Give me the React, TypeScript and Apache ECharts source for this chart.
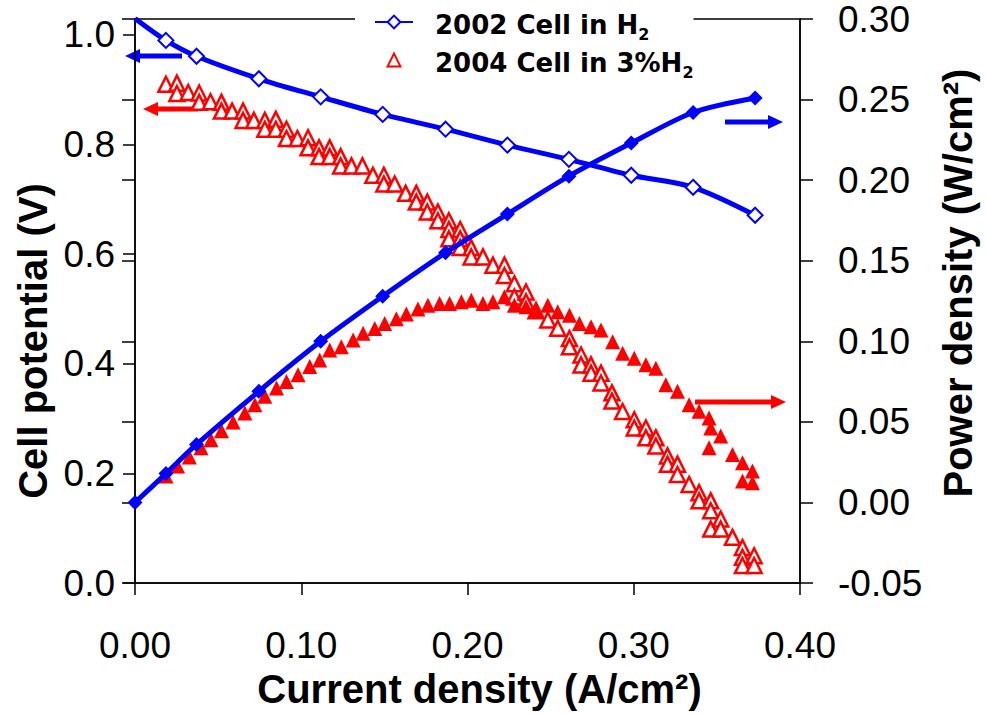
import React, { useEffect, useRef } from "react";
import * as echarts from "echarts";

// ---- data ----
const cur2002 = [0, 0.0186, 0.037, 0.0745, 0.1117, 0.149, 0.1868, 0.224, 0.261, 0.2985, 0.3357, 0.373];
const volt2002 = [1.03, 0.99, 0.961, 0.92, 0.887, 0.855, 0.828, 0.799, 0.773, 0.744, 0.722, 0.671];
const power2002 = [0.0, 0.018, 0.036, 0.069, 0.1, 0.128, 0.155, 0.179, 0.2025, 0.223, 0.242, 0.251];

const curV2004 = [
  0.0186, 0.0252, 0.0252, 0.032, 0.0386, 0.0386, 0.0454, 0.052, 0.052, 0.0584, 0.065, 0.065, 0.0715,
  0.0781, 0.0781, 0.0847, 0.0847, 0.0911, 0.0911, 0.0977, 0.1041, 0.1041, 0.1107, 0.1107, 0.1171, 0.1171,
  0.1237, 0.1237, 0.1302, 0.1368, 0.1431, 0.1497, 0.1497, 0.1562, 0.1628, 0.1692, 0.1692, 0.1758, 0.1758,
  0.1822, 0.1822, 0.1888, 0.1888, 0.1888, 0.1956, 0.1956, 0.1956, 0.2022, 0.2022, 0.2093, 0.2153, 0.2222,
  0.2222, 0.2282, 0.2282, 0.2352, 0.2352, 0.2412, 0.2483, 0.2543, 0.2613, 0.2613, 0.2683, 0.2683, 0.2743,
  0.2743, 0.2803, 0.2803, 0.2869, 0.2869, 0.2933, 0.3003, 0.3003, 0.3073, 0.3073, 0.3133, 0.3133, 0.3203,
  0.3203, 0.3263, 0.3263, 0.3333, 0.3393, 0.3393, 0.3463, 0.3463, 0.3463, 0.3523, 0.3523, 0.3594, 0.3654,
  0.3654, 0.3654, 0.3724, 0.3724,
];
const volt2004 = [
  0.91, 0.912, 0.893, 0.895, 0.894, 0.877, 0.878, 0.877, 0.861, 0.861, 0.861, 0.844, 0.844,
  0.844, 0.828, 0.846, 0.828, 0.828, 0.811, 0.811, 0.8125, 0.794, 0.794, 0.778, 0.794, 0.778,
  0.778, 0.761, 0.761, 0.761, 0.744, 0.744, 0.728, 0.728, 0.711, 0.711, 0.695, 0.695, 0.677,
  0.677, 0.661, 0.661, 0.645, 0.628, 0.645, 0.628, 0.612, 0.612, 0.595, 0.595, 0.58, 0.58,
  0.561, 0.546, 0.522, 0.531, 0.513, 0.497, 0.48, 0.465, 0.446, 0.431, 0.416, 0.398, 0.398,
  0.383, 0.383, 0.365, 0.347, 0.332, 0.313, 0.298, 0.283, 0.283, 0.265, 0.265, 0.25, 0.232,
  0.217, 0.217, 0.198, 0.18, 0.165, 0.15, 0.15, 0.132, 0.0985, 0.117, 0.0985, 0.0835, 0.065,
  0.047, 0.032, 0.05, 0.032,
];

const curP2004 = [
  0.0186, 0.0256, 0.0327, 0.0397, 0.0457, 0.052, 0.059, 0.0661, 0.0721, 0.0781, 0.0851, 0.0911, 0.0981,
  0.1051, 0.1111, 0.1171, 0.1241, 0.1312, 0.1372, 0.1442, 0.1502, 0.1572, 0.1632, 0.1702, 0.1762, 0.1832,
  0.1892, 0.1963, 0.2023, 0.2093, 0.2153, 0.2222, 0.2282, 0.2352, 0.2412, 0.2483, 0.2543, 0.2613, 0.2673,
  0.2743, 0.2803, 0.2873, 0.2933, 0.3003, 0.3073, 0.3133, 0.3193, 0.3263, 0.3333, 0.3393, 0.3453, 0.3463,
  0.3523, 0.3453, 0.3594, 0.3654, 0.3654, 0.3714, 0.3714,
];
const power2004 = [
  0.0165, 0.0227, 0.0282, 0.034, 0.039, 0.0446, 0.05, 0.0556, 0.0607, 0.0659, 0.071, 0.0751, 0.0792,
  0.0844, 0.0885, 0.0946, 0.0967, 0.1008, 0.105, 0.108, 0.111, 0.114, 0.117, 0.12, 0.1224, 0.1235,
  0.1235, 0.1245, 0.1255, 0.1235, 0.1245, 0.1276, 0.1224, 0.1214, 0.1193, 0.1224, 0.1183, 0.1162, 0.111,
  0.109, 0.107, 0.0998, 0.0926, 0.0895, 0.0854, 0.0833, 0.073, 0.069, 0.0607, 0.0566, 0.0525, 0.0463,
  0.0412, 0.034, 0.0298, 0.0247, 0.0134, 0.0196, 0.0123,
];

const xTitle = "Current density (A/cm²)";
const yLeftTitle = "Cell potential (V)";
const yRightTitle = "Power density (W/cm²)";
const name2002 = "2002 Cell in H2";
const name2004 = "2004 Cell in 3%H2";

const FONT = '"Liberation Sans", Arial, sans-serif';
const BLUE = "#0000ff";
const RED = "#ff0000";

function arrow(tail: number, tip: number, y: number, color: string) {
  const dir = tip > tail ? 1 : -1;
  const headLen = 15;
  const baseX = tip - dir * headLen;
  return {
    type: "group",
    z: 100,
    children: [
      { type: "line", shape: { x1: tail, y1: y, x2: baseX, y2: y }, style: { stroke: color, lineWidth: 5 } },
      {
        type: "polygon",
        shape: { points: [[tip, y], [baseX, y - 7], [baseX, y + 7]] },
        style: { fill: color },
      },
    ],
  };
}

export default function App() {
  const ref = useRef<HTMLDivElement>(null);
  useEffect(() => {
    if (!ref.current) return;
    const chart = echarts.init(ref.current, null, { renderer: "svg" });
    const axisLineStyle = { color: "#000", width: 1.5 };
    const labelStyle = { fontSize: 37, color: "#000", fontFamily: FONT };
    const nameStyle = { fontSize: 40, fontWeight: "bold", color: "#000", fontFamily: FONT };
    const option = {
      animation: false,
      backgroundColor: "#fff",
      grid: {
        left: 135, right: 186, top: 19, bottom: 128,
        show: true, borderColor: "#000", borderWidth: 1.5, backgroundColor: "transparent",
      },
      legend: {
        left: 355, top: 12, orient: "vertical", itemGap: 8, itemWidth: 38, itemHeight: 16,
        padding: [0, 0, 6, 19], backgroundColor: "#fff", z: 50,
        data: [{ name: name2002 }, { name: name2004 }],
        formatter: (n: string) =>
          n === name2002 ? "{a|2002 Cell in H}{s|2}" : "{a|2004 Cell in 3%H}{s|2}",
        textStyle: {
          padding: [6, 0, 0, 17],
          rich: {
            a: { fontSize: 26, fontWeight: "bold", fontFamily: "DejaVu Sans", lineHeight: 34, color: "#000" },
            s: { fontSize: 16, fontWeight: "bold", fontFamily: "DejaVu Sans", lineHeight: 16, verticalAlign: "bottom", color: "#000" },
          },
        },
      },
      xAxis: {
        type: "value", min: 0, max: 0.4, interval: 0.1,
        axisLine: { show: true, onZero: false, lineStyle: axisLineStyle },
        axisTick: { show: true, inside: false, length: 12, lineStyle: axisLineStyle },
        axisLabel: { ...labelStyle, margin: 44, formatter: (v: number) => v.toFixed(2) },
        splitLine: { show: false },
        name: xTitle, nameLocation: "middle", nameGap: 84,
        nameTextStyle: { ...nameStyle, padding: [0, 0, 0, 24] },
      },
      yAxis: [
        {
          type: "value", position: "left", min: 0, max: 1.029, interval: 0.2,
          axisLine: { show: true, onZero: false, lineStyle: axisLineStyle },
          axisTick: { show: true, inside: false, length: 12, lineStyle: axisLineStyle },
          axisLabel: { ...labelStyle, margin: 20, showMaxLabel: false, formatter: (v: number) => (v > 1.01 ? "" : v.toFixed(1)) },
          splitLine: { show: false },
          name: yLeftTitle, nameLocation: "middle", nameGap: 76, nameRotate: 90,
          nameTextStyle: { ...nameStyle, padding: [0, 80, 0, 0] },
        },
        {
          type: "value", position: "right", min: -0.05, max: 0.3, interval: 0.05,
          axisLine: { show: true, onZero: false, lineStyle: axisLineStyle },
          axisTick: { show: true, inside: false, length: 13, lineStyle: axisLineStyle },
          axisLabel: { ...labelStyle, margin: 38, formatter: (v: number) => (Math.abs(v) < 1e-9 ? "0.00" : v.toFixed(2)) },
          splitLine: { show: false },
          name: yRightTitle, nameLocation: "middle", nameGap: 138, nameRotate: 90,
          nameTextStyle: { ...nameStyle, padding: [0, 0, 0, 36] },
        },
        {
          type: "value", position: "right", min: -0.05, max: 0.3, interval: 0.05,
          axisLine: { show: false },
          axisTick: { show: true, inside: true, length: 13, lineStyle: axisLineStyle },
          axisLabel: { show: false },
          splitLine: { show: false },
        },
      ],
      series: [
        {
          name: name2004, type: "line", yAxisIndex: 0,
          symbol: "triangle", symbolSize: 15, showAllSymbol: true,
          lineStyle: { width: 0, opacity: 0 },
          itemStyle: { color: "#fff", borderColor: RED, borderWidth: 2.5, opacity: 1 },
          data: curV2004.map((x, i) => [x, volt2004[i]]),
          z: 2,
        },
        {
          name: "2004 power", type: "scatter", yAxisIndex: 1,
          symbol: "triangle", symbolSize: 15,
          itemStyle: { color: RED, opacity: 1 },
          data: curP2004.map((x, i) => [x, power2004[i]]),
          z: 2,
        },
        {
          name: name2002, type: "line", yAxisIndex: 0, smooth: 0.3,
          symbol: "diamond", symbolSize: 15,
          lineStyle: { color: BLUE, width: 5 },
          itemStyle: { color: "#fff", borderColor: BLUE, borderWidth: 2 },
          data: cur2002.map((x, i) => (i === 0 ? { value: [x, volt2002[i]], symbol: "none" } : [x, volt2002[i]])),
          z: 3,
        },
        {
          name: "2002 power", type: "line", yAxisIndex: 1, smooth: 0.3,
          symbol: "diamond", symbolSize: 15,
          lineStyle: { color: BLUE, width: 5 },
          itemStyle: { color: BLUE },
          data: cur2002.map((x, i) => [x, power2002[i]]),
          z: 3,
        },
      ],
      graphic: [
        arrow(182, 125, 56, BLUE),
        arrow(198, 143, 109, RED),
        arrow(725, 783, 122, BLUE),
        arrow(695, 786, 402, RED),
      ],
    };
    chart.setOption(option as any);
    return () => chart.dispose();
  }, []);
  return <div ref={ref} style={{ position: "fixed", left: 0, top: 0, width: 986, height: 714 }} />;
}
